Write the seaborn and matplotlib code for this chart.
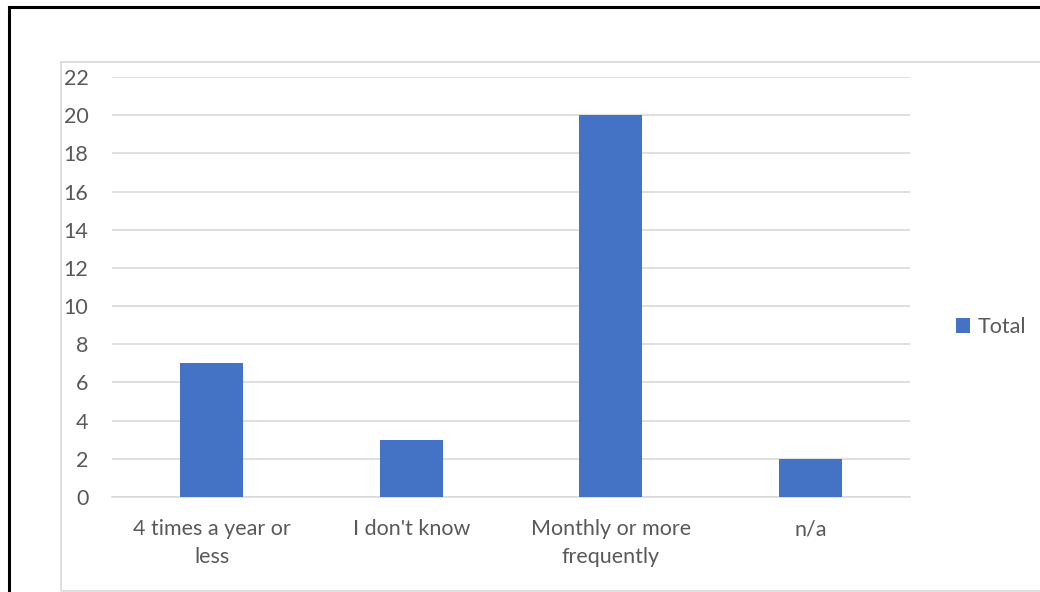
import matplotlib
matplotlib.use("Agg")
import matplotlib.pyplot as plt
from matplotlib.patches import Rectangle
import seaborn as sns
import pandas as pd

categories = ["4 times a year or\nless", "I don't know", "Monthly or more\nfrequently", "n/a"]
totals = [7, 3, 20, 2]
y_ticks = list(range(0, 23, 2))

sns.set_theme(style="white")
plt.rcParams["font.family"] = ["Lato", "DejaVu Sans"]

W, H = 1040, 592
fig = plt.figure(figsize=(W / 100, H / 100), dpi=100)

# outer black frame and inner light chart-area frame (pixel coords -> figure fraction)
def px_rect(x0, y0, x1, y1, **kw):
    return Rectangle((x0 / W, 1 - y1 / H), (x1 - x0) / W, (y1 - y0) / H,
                     transform=fig.transFigure, fill=False, **kw)

fig.patches.append(px_rect(9, 7, 1060, 620, edgecolor="black", linewidth=2.2))
fig.patches.append(px_rect(61, 62, 1060, 591, edgecolor="#d9d9d9", linewidth=1.2))

ax = fig.add_axes([112 / W, (H - 497) / H, (910 - 112) / W, (497 - 77) / H])

df = pd.DataFrame({"category": categories, "Total": totals})
sns.barplot(data=df, x="category", y="Total", color="#4472c4", width=0.316,
            saturation=1, ax=ax, label="Total", zorder=3, linewidth=0)

ax.set_ylim(0, 22)
ax.set_yticks(y_ticks)
ax.yaxis.grid(True, color="#d9d9d9", linewidth=1.2, zorder=0)
ax.set_axisbelow(True)
for side in ["top", "right", "left"]:
    ax.spines[side].set_visible(False)
ax.spines["bottom"].set_color("#d9d9d9")
ax.spines["bottom"].set_linewidth(1.2)
ax.set_xlabel("")
ax.set_ylabel("")
ax.tick_params(axis="y", length=0, pad=17, labelsize=15.5, labelcolor="#595959")
ax.tick_params(axis="x", length=0, pad=16, labelsize=15.5, labelcolor="#595959")
for lbl in ax.get_xticklabels():
    lbl.set_linespacing(1.5)

ax.legend(loc="center left", bbox_to_anchor=(945 / W, 1 - 327 / H),
          bbox_transform=fig.transFigure, frameon=False, fontsize=15.5,
          labelcolor="#595959", handlelength=0.65, handleheight=0.65,
          handletextpad=0.35, borderpad=0)

fig.savefig("out.png", dpi=100)
